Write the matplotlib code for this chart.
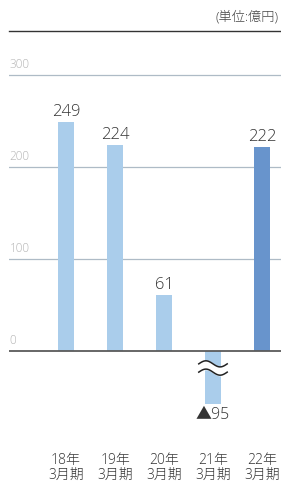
import numpy as np
import matplotlib.pyplot as plt

plt.rcParams['font.family'] = ['Open Sans', 'Noto Sans CJK JP', 'DejaVu Sans']

# データ
years = ['18年', '19年', '20年', '21年', '22年']
period = '3月期'
values = [249, 224, 61, -95, 222]
yticks = [0, 100, 200, 300]

# 表示上の省略位置（マイナス値はここで切る）
cut_value = -57.6

light = '#aacdeb'
dark = '#6894cc'

fig = plt.figure(figsize=(2.81, 4.83), dpi=100)
ax = fig.add_axes([9 / 281, 0, 272 / 281, 452 / 483])
ax.set_xlim(-1.163, 4.388)
ax.set_ylim(-143.5, 347.8)
ax.axis('off')

# グリッド
for t in yticks:
    if t == 0:
        ax.axhline(0, color='#5a5a5a', lw=1.3, zorder=3)
    else:
        ax.axhline(t, color='#aebbc6', lw=0.9, zorder=0)
    ax.text(-1.15, t + 4, str(t), color='#b5b5b5', fontsize=8.5, ha='left', va='bottom',
            fontweight='light')

# 棒
x = np.arange(len(values))
shown = [max(v, cut_value) for v in values]
colors = [light] * (len(values) - 1) + [dark]
ax.bar(x, shown, width=0.327, color=colors, zorder=2)

# 値ラベル
for xi, v, s in zip(x, values, shown):
    if v >= 0:
        ax.text(xi, s + 2, str(v), ha='center', va='bottom', fontsize=12, color='#333333',
                fontweight='light')
    else:
        ax.text(xi, s - 3, '▲' + str(-v), ha='center', va='top', fontsize=11.5, color='#333333',
                fontweight='light')
        # 省略記号（波線）
        wx = np.linspace(xi - 0.29, xi + 0.29, 60)
        wave = 3.3 * np.sin((wx - xi + 0.29) / 0.58 * 2 * np.pi)
        ax.fill_between(wx, -14 + wave, -23 + wave, color='white', zorder=4)
        ax.plot(wx, -14 + wave, color='#222222', lw=1.1, zorder=5)
        ax.plot(wx, -23 + wave, color='#222222', lw=1.1, zorder=5)

# 年ラベル（2行）
for xi, yr in zip(x, years):
    ax.text(xi, -127, yr + '\n' + period, ha='center', va='center', fontsize=10,
            color='#333333', fontweight='light', linespacing=1.0)

# 上の線と単位
fig.add_artist(plt.Line2D([9 / 281, 1], [1 - 31 / 483] * 2, color='#333333', lw=1.0))
fig.text(279 / 281, 1 - 17 / 483, '(単位:億円)', ha='right', va='center', fontsize=9.5,
         color='#444444', fontweight='light')

fig.savefig('out.png', dpi=100)
